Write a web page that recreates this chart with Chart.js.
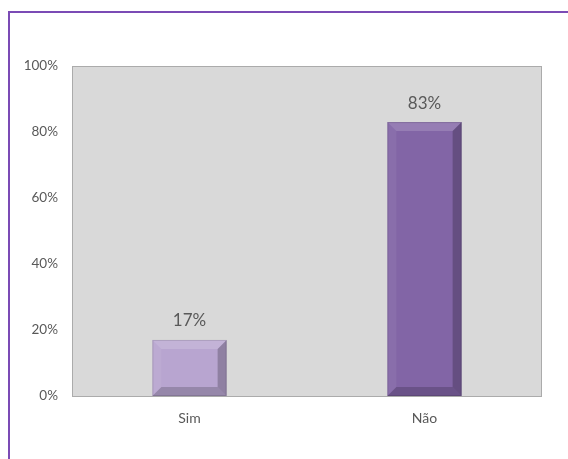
<!DOCTYPE html>
<html>
<head>
<meta charset="utf-8">
<script src="https://cdn.jsdelivr.net/npm/chart.js@4/dist/chart.umd.min.js"></script>
<style>
  html, body { margin: 0; padding: 0; background: #fff; }
  #wrap { position: relative; width: 568px; height: 459px; }
  #frame { position: absolute; left: 8px; top: 11px; width: 600px; height: 500px;
           border-left: 2px solid #7B4BB5; border-top: 2px solid #7B4BB5; box-sizing: border-box; }
  canvas { position: absolute; left: 0; top: 0; }
</style>
</head>
<body>
<div id="wrap">
  <div id="frame"></div>
  <canvas id="c" width="568" height="459"></canvas>
</div>
<script>
const categories = ["Sim", "Não"];
const values = [17, 83];
const barColors = ["#B8A5D0", "#8265A6"];
const tickValues = [0, 20, 40, 60, 80, 100];

const FONT = "Lato, 'Open Sans', sans-serif";

const plotBg = {
  id: 'plotBg',
  beforeDraw(chart) {
    const { ctx, chartArea: a } = chart;
    ctx.save();
    ctx.fillStyle = '#D9D9D9';
    ctx.fillRect(a.left, a.top, a.right - a.left, a.bottom - a.top);
    ctx.strokeStyle = '#ABABAB';
    ctx.lineWidth = 1;
    ctx.strokeRect(a.left + 0.5, a.top + 0.5, a.right - a.left - 1, a.bottom - a.top);
    ctx.restore();
  }
};

const bevel = {
  id: 'bevel',
  afterDatasetsDraw(chart) {
    const { ctx } = chart;
    const meta = chart.getDatasetMeta(0);
    meta.data.forEach((bar, i) => {
      const p = bar.getProps(['x', 'y', 'base', 'width'], true);
      const l = p.x - p.width / 2, r = p.x + p.width / 2, t = p.y, b = p.base;
      const d = Math.min(9, (b - t) / 2);
      ctx.save();
      const poly = (pts, color) => {
        ctx.beginPath();
        ctx.moveTo(pts[0][0], pts[0][1]);
        for (let k = 1; k < pts.length; k++) ctx.lineTo(pts[k][0], pts[k][1]);
        ctx.closePath();
        ctx.fillStyle = color;
        ctx.fill();
      };
      poly([[l, t], [r, t], [r - d, t + d], [l + d, t + d]], 'rgba(255,255,255,0.16)');
      poly([[l, t], [l + d, t + d], [l + d, b - d], [l, b]], 'rgba(255,255,255,0.06)');
      poly([[r, t], [r, b], [r - d, b - d], [r - d, t + d]], 'rgba(0,0,0,0.22)');
      poly([[l, b], [l + d, b - d], [r - d, b - d], [r, b]], 'rgba(0,0,0,0.18)');
      ctx.strokeStyle = 'rgba(0,0,0,0.12)';
      ctx.lineWidth = 1;
      ctx.strokeRect(l + 0.5, t + 0.5, p.width - 1, b - t - 1);
      ctx.fillStyle = '#595959';
      ctx.font = '17px ' + FONT;
      ctx.textAlign = 'center';
      ctx.textBaseline = 'middle';
      ctx.fillText(values[i] + '%', p.x, t - 19);
      ctx.restore();
    });
  }
};

new Chart(document.getElementById('c'), {
  type: 'bar',
  data: {
    labels: categories,
    datasets: [{
      data: values,
      backgroundColor: barColors,
      borderWidth: 0,
      categoryPercentage: 1,
      barPercentage: 0.316
    }]
  },
  options: {
    responsive: false,
    animation: false,
    devicePixelRatio: 1,
    layout: { padding: { left: 0, top: 66, right: 26, bottom: 33 } },
    plugins: { legend: { display: false }, tooltip: { enabled: false } },
    scales: {
      x: {
        grid: { display: false, drawTicks: false },
        border: { display: false },
        ticks: { color: '#595959', font: { family: FONT, size: 14 }, padding: 14 },
        afterFit(s) { s.height = 30; }
      },
      y: {
        min: 0, max: 100,
        afterBuildTicks(s) { s.ticks = tickValues.map(v => ({ value: v })); },
        grid: { display: false, drawTicks: false },
        border: { display: false },
        ticks: { color: '#595959', font: { family: FONT, size: 13.5 }, padding: 14,
                 callback: v => v + '%' },
        afterFit(s) { s.width = 72; }
      }
    }
  },
  plugins: [plotBg, bevel]
});
</script>
</body>
</html>
